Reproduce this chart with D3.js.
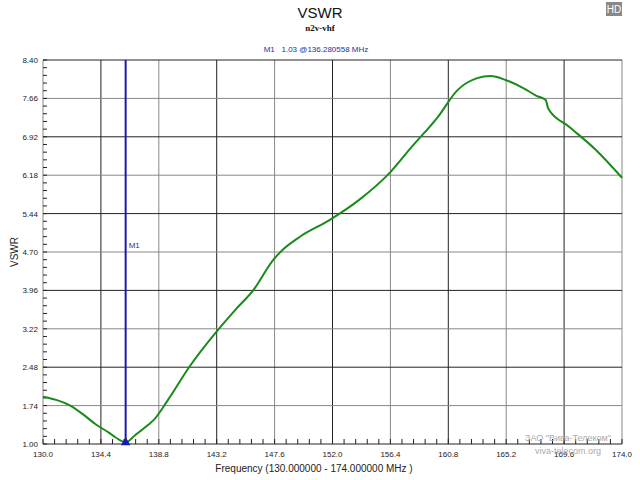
<!DOCTYPE html>
<html><head><meta charset="utf-8">
<script src="https://cdn.jsdelivr.net/npm/d3@7"></script>
<style>body{margin:0;background:#fff}</style>
</head><body><svg id="chart" width="640" height="480"></svg>
<script>
const freq = [130, 131, 132, 133, 134, 135, 135.5, 136.28, 137, 138, 138.4, 139.5, 141.1, 143.3, 144.6, 146.0, 147.5, 148.2, 149.5, 151.8, 154, 156.4, 158, 160, 161.5, 163, 164, 165.2, 166.5, 167.5, 168.2, 168.4, 170, 172, 174];
const vswr = [1.91, 1.85, 1.75, 1.58, 1.38, 1.22, 1.13, 1.03, 1.17, 1.37, 1.46, 1.85, 2.48, 3.20, 3.58, 3.97, 4.55, 4.74, 4.99, 5.32, 5.70, 6.24, 6.72, 7.30, 7.82, 8.05, 8.09, 8.01, 7.86, 7.71, 7.63, 7.46, 7.11, 6.67, 6.13];
const xTicks = [130, 134.4, 138.8, 143.2, 147.6, 152, 156.4, 160.8, 165.2, 169.6, 174];
const yTicks = [1.00, 1.74, 2.48, 3.22, 3.96, 4.70, 5.44, 6.18, 6.92, 7.66, 8.40];
const marker = {f: 136.280558, v: 1.03};

const svg = d3.select("#chart");
const x = d3.scaleLinear().domain([130, 174]).range([43, 622]);
const y = d3.scaleLinear().domain([1, 8.4]).range([444, 60]);
const font = "Arial, 'Liberation Sans', sans-serif";

// Grid
xTicks.forEach((t, i) => {
    svg.append("line").attr("x1", x(t)).attr("x2", x(t)).attr("y1", 60).attr("y2", 444)
        .attr("stroke", i % 2 ? "#222" : "#888").attr("stroke-width", 1);
});
yTicks.forEach((t, i) => {
    svg.append("line").attr("x1", 43).attr("x2", 622).attr("y1", y(t)).attr("y2", y(t))
        .attr("stroke", i % 2 ? "#888" : "#222").attr("stroke-width", 1);
});

// Minor ticks
const xMinor = d3.range(0, 51).map(i => 130 + i * 0.88);
svg.selectAll(".xm").data(xMinor).enter().append("line")
    .attr("x1", d => x(d)).attr("x2", d => x(d)).attr("y1", 439).attr("y2", 444)
    .attr("stroke", "#222");
const yMinor = d3.range(0, 51).map(i => 1 + i * 0.148);
svg.selectAll(".ym").data(yMinor).enter().append("line")
    .attr("x1", 43).attr("x2", 47).attr("y1", d => y(d)).attr("y2", d => y(d))
    .attr("stroke", "#222");

// Axes labels
svg.selectAll(".xl").data(xTicks).enter().append("text")
    .attr("x", d => x(d)).attr("y", 457).attr("text-anchor", "middle")
    .attr("font-family", font).attr("font-size", 8).attr("fill", "#222")
    .text(d => d.toFixed(1));
svg.selectAll(".yl").data(yTicks).enter().append("text")
    .attr("x", 38).attr("y", d => y(d) + 3).attr("text-anchor", "end")
    .attr("font-family", font).attr("font-size", 8).attr("fill", "#222")
    .text(d => d.toFixed(2));

svg.append("text").attr("x", 314).attr("y", 472).attr("text-anchor", "middle")
    .attr("font-family", font).attr("font-size", 10).attr("fill", "#222")
    .text("Frequency (130.000000 - 174.000000 MHz )");
svg.append("text").attr("transform", "translate(18,252) rotate(-90)").attr("text-anchor", "middle")
    .attr("font-family", font).attr("font-size", 10).attr("fill", "#222").text("VSWR");

// Titles
svg.append("text").attr("x", 320).attr("y", 18).attr("text-anchor", "middle")
    .attr("font-family", font).attr("font-size", 15).attr("fill", "#111").text("VSWR");
svg.append("text").attr("x", 320).attr("y", 31).attr("text-anchor", "middle")
    .attr("font-family", "'Liberation Serif', serif").attr("font-weight", "bold")
    .attr("font-size", 9).attr("fill", "#111").text("n2v-vhf");
svg.append("text").attr("x", 316).attr("y", 52).attr("text-anchor", "middle")
    .attr("font-family", font).attr("font-size", 8).attr("fill", "#223399")
    .attr("xml:space", "preserve")
    .text("M1   1.03 @136.280558 MHz");

// HD badge
svg.append("rect").attr("x", 606).attr("y", 2).attr("width", 16).attr("height", 14).attr("fill", "#888");
svg.append("text").attr("x", 614).attr("y", 13).attr("text-anchor", "middle")
    .attr("font-family", font).attr("font-size", 10).attr("fill", "#fff").text("HD");

// Watermark
svg.append("text").attr("x", 568).attr("y", 441).attr("text-anchor", "middle")
    .attr("font-family", font).attr("font-size", 9).attr("fill", "#aaa")
    .text("ЗАО \"Вива-Телеком\"");
svg.append("text").attr("x", 568).attr("y", 454).attr("text-anchor", "middle")
    .attr("font-family", font).attr("font-size", 9).attr("fill", "#aaa")
    .text("viva-telecom.org");

// Curve
const line = d3.line().x((d, i) => x(freq[i])).y(d => y(d)).curve(d3.curveMonotoneX);
svg.append("path").datum(vswr).attr("d", line).attr("fill", "none")
    .attr("stroke", "#1a8a1a").attr("stroke-width", 2);

// Marker
svg.append("line").attr("x1", x(marker.f)).attr("x2", x(marker.f)).attr("y1", 60).attr("y2", 444)
    .attr("stroke", "#1a1aaa").attr("stroke-width", 2);
svg.append("text").attr("x", x(marker.f) + 3).attr("y", 248)
    .attr("font-family", font).attr("font-size", 8).attr("fill", "#223399").text("M1");
svg.append("path").attr("d", d3.symbol(d3.symbolTriangle, 40)())
    .attr("transform", `translate(${x(marker.f)},${y(marker.v)})`).attr("fill", "#1a1aaa");
</script></body></html>
